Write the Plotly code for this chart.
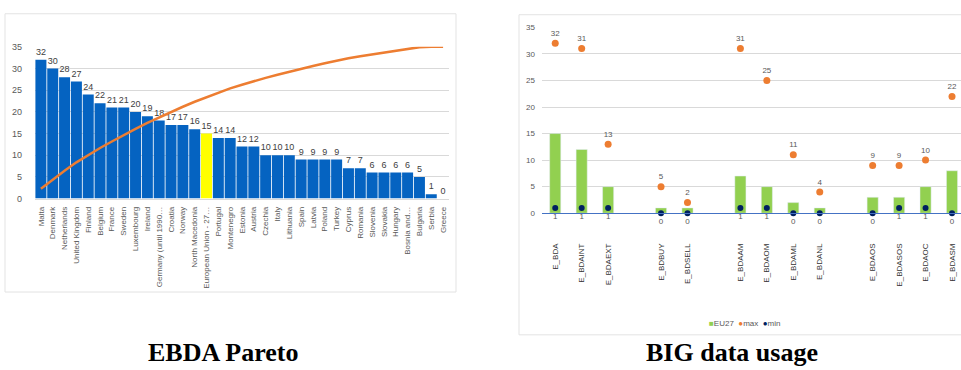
import numpy as np
import plotly.graph_objects as go

# ---------------- data: EBDA Pareto ----------------
countries = ["Malta", "Denmark", "Netherlands", "United Kingdom", "Finland", "Belgium",
             "France", "Sweden", "Luxembourg", "Ireland", "Germany (until 1990…",
             "Croatia", "Norway", "North Macedonia", "European Union - 27…", "Portugal",
             "Montenegro", "Estonia", "Austria", "Czechia", "Italy", "Lithuania", "Spain",
             "Latvia", "Poland", "Turkey", "Cyprus", "Romania", "Slovenia", "Slovakia",
             "Hungary", "Bosnia and…", "Bulgaria", "Serbia", "Greece"]
ebda_values = [32, 30, 28, 27, 24, 22, 21, 21, 20, 19, 18, 17, 17, 16, 15, 14, 14, 12, 12,
               10, 10, 10, 9, 9, 9, 9, 7, 7, 6, 6, 6, 6, 5, 1, 0]
highlight = "European Union - 27…"
pareto_ticks = [0, 5, 10, 15, 20, 25, 30, 35]

# ---------------- data: BIG data usage ----------------
big_cats = ["E_BDA", "E_BDAINT", "E_BDAEXT", "",
            "E_BDBUY", "E_BDSELL", "",
            "E_BDAAM", "E_BDAOM", "E_BDAML", "E_BDANL", "",
            "E_BDAOS", "E_BDASOS", "E_BDAOC", "E_BDASM"]
eu27 = [15, 12, 5, None, 1, 1, None, 7, 5, 2, 1, None, 3, 3, 5, 8]
big_max = [32, 31, 13, None, 5, 2, None, 31, 25, 11, 4, None, 9, 9, 10, 22]
big_min = [1, 1, 1, None, 0, 0, None, 1, 1, 0, 0, None, 0, 1, 1, 0]
big_ticks = [0, 5, 10, 15, 20, 25, 30, 35]
series_names = ["EU27", "max", "min"]

W, H = 961, 370
FONT = "Liberation Sans"
GRAY = "#595959"
GRID = "#D9D9D9"
C_EU, C_MAX, C_MIN = "#92D050", "#ED7D31", "#002060"

cum_share = np.cumsum(ebda_values) / np.sum(ebda_values)
bar_colors = ["#FFFF00" if c == highlight else "#0563C1" for c in countries]

fig = go.Figure()

# Pareto bars
fig.add_trace(go.Bar(
    x=countries, y=ebda_values, marker=dict(color=bar_colors, line=dict(width=0)),
    text=[str(v) for v in ebda_values], textposition="outside", cliponaxis=False,
    textfont=dict(size=9, color="#404040", family=FONT),
    xaxis="x", yaxis="y", showlegend=False))
# Cumulative line
fig.add_trace(go.Scatter(
    x=countries, y=cum_share, mode="lines", line=dict(color=C_MAX, width=2.5),
    xaxis="x", yaxis="y2", showlegend=False))

# Big data usage
xi = list(range(len(big_cats)))
fig.add_trace(go.Bar(
    x=xi, y=eu27, name=series_names[0], marker=dict(color=C_EU),
    xaxis="x3", yaxis="y3", width=0.42, showlegend=False))
fig.add_trace(go.Scatter(
    x=xi, y=big_max, name=series_names[1], mode="markers+text",
    marker=dict(color=C_MAX, size=7),
    text=[("" if v is None else str(v)) for v in big_max], textposition="top center",
    textfont=dict(size=8, color=GRAY, family=FONT), cliponaxis=False,
    xaxis="x3", yaxis="y3", showlegend=False))
fig.add_trace(go.Scatter(
    x=xi, y=big_min, name=series_names[2], mode="markers+text",
    marker=dict(color=C_MIN, size=6),
    text=[("" if v is None else str(v)) for v in big_min], textposition="bottom center",
    textfont=dict(size=8, color=GRAY, family=FONT), cliponaxis=False,
    xaxis="x3", yaxis="y3", showlegend=False))

def px_x(a, b):
    return [a / W, b / W]

def px_y(top, bottom):
    return [1 - bottom / H, 1 - top / H]

tickvals_big = [i for i, c in enumerate(big_cats) if c]
ticktext_big = [c for c in big_cats if c]

legend_text = "&nbsp;&nbsp;".join(
    f"<span style='color:{c}'>{s}</span>{n}"
    for c, s, n in zip([C_EU, C_MAX, C_MIN], ["■", "●", "●"], series_names))

fig.update_layout(
    width=W, height=H, margin=dict(l=0, r=0, t=0, b=0),
    paper_bgcolor="white", plot_bgcolor="white",
    bargap=0.07,
    font=dict(family=FONT, color=GRAY, size=9),
    xaxis=dict(domain=px_x(35, 449), type="category", tickangle=-90,
               tickfont=dict(size=8, color=GRAY), showgrid=False, showline=True,
               linecolor=GRID, ticks="", ticklabelstandoff=4, anchor="y"),
    yaxis=dict(domain=px_y(43, 199), range=[0, 35], tickvals=pareto_ticks,
               showgrid=True, gridcolor=GRID, gridwidth=1, zeroline=False,
               tickfont=dict(size=9, color=GRAY), ticklabelstandoff=12, anchor="x"),
    yaxis2=dict(overlaying="y", range=[0, 1], side="right", visible=False, anchor="x"),
    xaxis3=dict(domain=px_x(542, 961), range=[-0.5, 15.34], tickvals=tickvals_big,
                ticktext=ticktext_big, tickangle=-90,
                tickfont=dict(size=8, color="#333333"),
                showgrid=False, showline=True, linecolor="#4472C4", linewidth=1.2,
                zeroline=False, ticks="", ticklabelstandoff=26, anchor="y3"),
    yaxis3=dict(domain=px_y(23, 214), range=[0, 35], tickvals=big_ticks,
                showgrid=True, gridcolor=GRID, zeroline=False,
                tickfont=dict(size=8, color=GRAY), ticklabelstandoff=6, anchor="x3"),
    shapes=[
        dict(type="rect", xref="paper", yref="paper", x0=5 / W, x1=456 / W,
             y0=1 - 295 / H, y1=1 - 9 / H, line=dict(color="#E3E3E3", width=1)),
        dict(type="rect", xref="paper", yref="paper", x0=519 / W, x1=1.01,
             y0=1 - 339 / H, y1=1 - 10 / H, line=dict(color="#E3E3E3", width=1)),
    ],
    annotations=[
        dict(text=legend_text, x=744 / W, y=1 - 327 / H, xref="paper", yref="paper",
             xanchor="center", yanchor="middle", showarrow=False,
             font=dict(family=FONT, size=8, color=GRAY)),
        dict(text="<b>EBDA Pareto</b>", x=223 / W, y=1 - 357 / H, xref="paper",
             yref="paper", xanchor="center", yanchor="middle", showarrow=False,
             font=dict(family="Liberation Serif", size=26, color="black")),
        dict(text="<b>BIG data usage</b>", x=732 / W, y=1 - 357 / H, xref="paper",
             yref="paper", xanchor="center", yanchor="middle", showarrow=False,
             font=dict(family="Liberation Serif", size=26, color="black")),
    ],
)

fig.write_html("out.html")
